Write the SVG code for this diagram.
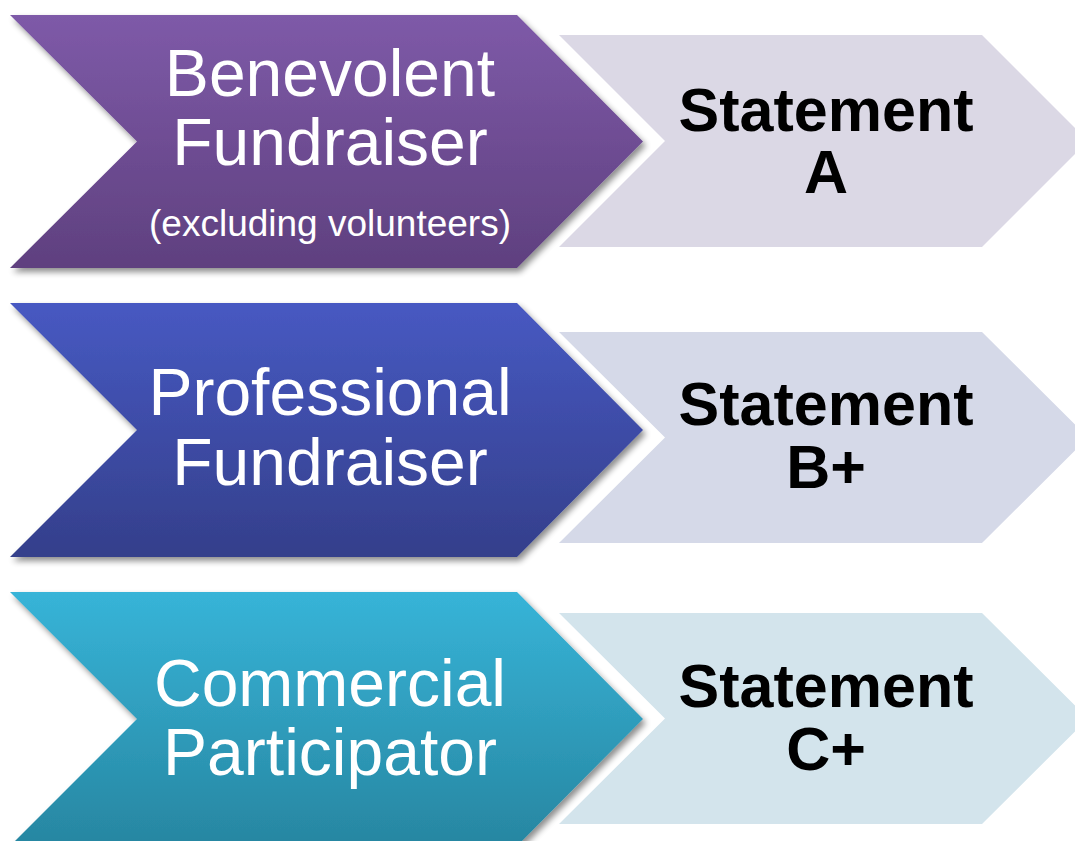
<svg xmlns="http://www.w3.org/2000/svg" width="1075" height="841" viewBox="0 0 1075 841">
  <defs>
    <linearGradient id="gPurple" x1="0" y1="0" x2="0" y2="1">
      <stop offset="0" stop-color="#7e5aa8"/>
      <stop offset="1" stop-color="#5f407f"/>
    </linearGradient>
    <linearGradient id="gBlue" x1="0" y1="0" x2="0" y2="1">
      <stop offset="0" stop-color="#4759c2"/>
      <stop offset="1" stop-color="#343f8b"/>
    </linearGradient>
    <linearGradient id="gTeal" x1="0" y1="0" x2="0" y2="1">
      <stop offset="0" stop-color="#37b4d8"/>
      <stop offset="1" stop-color="#2786a1"/>
    </linearGradient>
    <filter id="shadow" x="-5%" y="-5%" width="115%" height="120%">
      <feGaussianBlur in="SourceAlpha" stdDeviation="3"/>
      <feOffset dx="3" dy="4" result="b"/>
      <feComponentTransfer><feFuncA type="linear" slope="0.45"/></feComponentTransfer>
      <feMerge><feMergeNode/><feMergeNode in="SourceGraphic"/></feMerge>
    </filter>
    <style>
      .lbl { font-family: "Liberation Sans", Arial, sans-serif; fill: #ffffff; text-anchor: middle; }
      .big { font-size: 66px; }
      .small { font-size: 37px; }
      .stmt { font-family: "Liberation Sans", Arial, sans-serif; font-weight: bold; font-size: 61px; fill: #000000; text-anchor: middle; }
    </style>
  </defs>
  <rect width="1075" height="841" fill="#ffffff"/>

  <g id="connectors"></g>

  <g id="statement-a">
    <polygon points="559,35 982,35 1088,141 982,247 559,247 665,141" fill="#dbd8e5"/>
    <text class="stmt" x="826" y="131">Statement</text>
    <text class="stmt" x="826" y="193">A</text>
  </g>
  <g id="statement-b">
    <polygon points="559,332 982,332 1088,437.5 982,543 559,543 665,437.5" fill="#d5d9e8"/>
    <text class="stmt" x="826" y="425">Statement</text>
    <text class="stmt" x="826" y="488">B+</text>
  </g>
  <g id="statement-c">
    <polygon points="559,613 982,613 1088,718.5 982,824 559,824 665,718.5" fill="#d3e4ec"/>
    <text class="stmt" x="826" y="707">Statement</text>
    <text class="stmt" x="826" y="770">C+</text>
  </g>

  <g id="benevolent-fundraiser">
    <polygon points="10,15 517,15 643,141.5 517,268 10,268 137,141.5" fill="url(#gPurple)" filter="url(#shadow)"/>
    <text class="lbl big" x="330" y="96">Benevolent</text>
    <text class="lbl big" x="330" y="165">Fundraiser</text>
    <text class="lbl small" x="330" y="236">(excluding volunteers)</text>
  </g>
  <g id="professional-fundraiser">
    <polygon points="10,303 517,303 643,430 517,557 10,557 137,430" fill="url(#gBlue)" filter="url(#shadow)"/>
    <text class="lbl big" x="330" y="415">Professional</text>
    <text class="lbl big" x="330" y="485">Fundraiser</text>
  </g>
  <g id="commercial-participator">
    <polygon points="10,592 517,592 643,719 517,846 10,846 137,719" fill="url(#gTeal)" filter="url(#shadow)"/>
    <text class="lbl big" x="330" y="706">Commercial</text>
    <text class="lbl big" x="330" y="775">Participator</text>
  </g>
</svg>
